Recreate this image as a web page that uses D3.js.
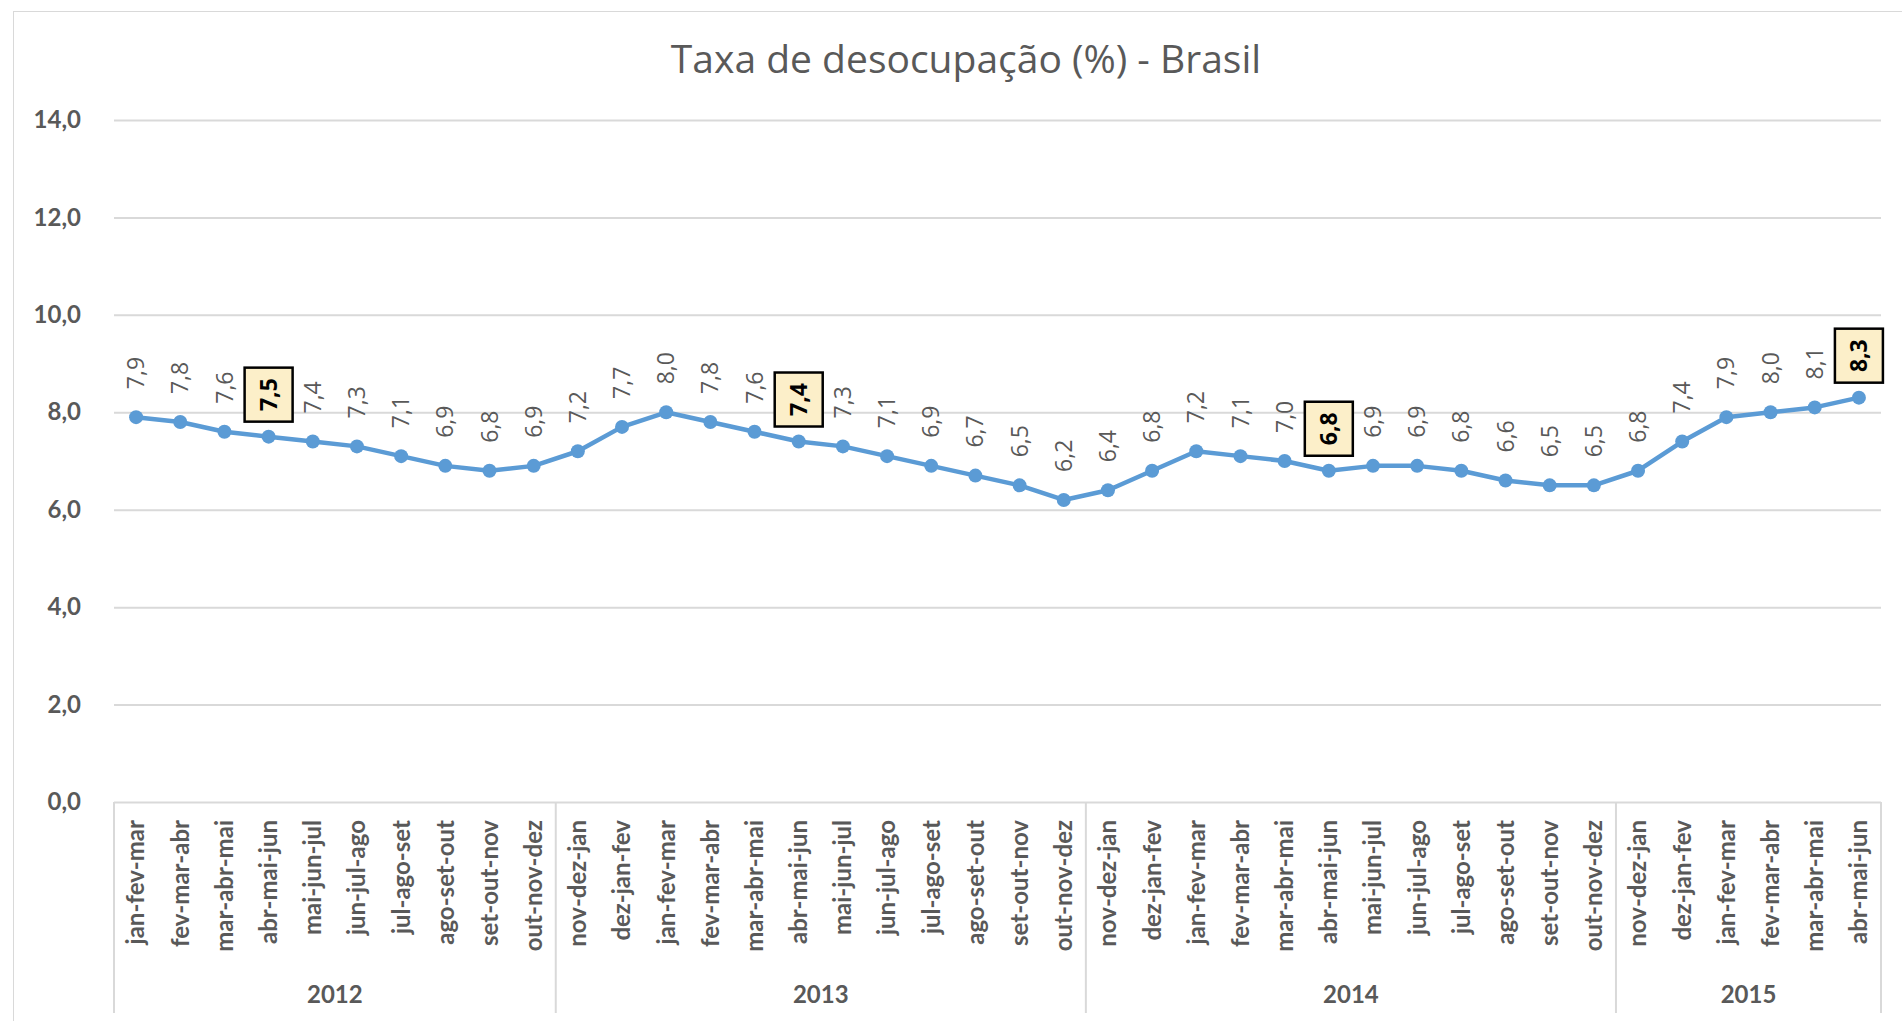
<!DOCTYPE html>
<html>
<head>
<meta charset="utf-8">
<script src="https://cdnjs.cloudflare.com/ajax/libs/d3/7.8.5/d3.min.js"></script>
<style>
	body { margin: 0; background: #fff; }
	text { fill: #595959; }
</style>
</head>
<body>
<svg id="chart" width="1902" height="1021"></svg>
<script>
var chartTitle = "Taxa de desocupação (%) - Brasil";

var periods = [
	"jan-fev-mar", "fev-mar-abr", "mar-abr-mai", "abr-mai-jun", "mai-jun-jul", "jun-jul-ago", "jul-ago-set", "ago-set-out", "set-out-nov", "out-nov-dez",
	"nov-dez-jan", "dez-jan-fev", "jan-fev-mar", "fev-mar-abr", "mar-abr-mai", "abr-mai-jun", "mai-jun-jul", "jun-jul-ago", "jul-ago-set", "ago-set-out", "set-out-nov", "out-nov-dez",
	"nov-dez-jan", "dez-jan-fev", "jan-fev-mar", "fev-mar-abr", "mar-abr-mai", "abr-mai-jun", "mai-jun-jul", "jun-jul-ago", "jul-ago-set", "ago-set-out", "set-out-nov", "out-nov-dez",
	"nov-dez-jan", "dez-jan-fev", "jan-fev-mar", "fev-mar-abr", "mar-abr-mai", "abr-mai-jun"
];

var rates = [
	7.9, 7.8, 7.6, 7.5, 7.4, 7.3, 7.1, 6.9, 6.8, 6.9,
	7.2, 7.7, 8.0, 7.8, 7.6, 7.4, 7.3, 7.1, 6.9, 6.7, 6.5, 6.2,
	6.4, 6.8, 7.2, 7.1, 7.0, 6.8, 6.9, 6.9, 6.8, 6.6, 6.5, 6.5,
	6.8, 7.4, 7.9, 8.0, 8.1, 8.3
];

var years = ["2012", "2013", "2014", "2015"];
var yearCounts = [10, 12, 12, 6];

// abr-mai-jun of each year gets a boxed label
var highlighted = [3, 15, 27, 39];

var yTicks = [0, 2, 4, 6, 8, 10, 12, 14];

var plotLeft = 114, plotRight = 1881, plotTop = 120, plotBottom = 802;

var br = d3.formatLocale({decimal: ",", thousands: ".", grouping: [3], currency: ["R$", ""]});
var fmt = br.format(".1f");

var svg = d3.select("#chart");

// chart area border
svg.append("rect")
	.attr("x", 13.5).attr("y", 11.5)
	.attr("width", 1900).attr("height", 1020)
	.attr("fill", "none").attr("stroke", "#d9d9d9").attr("stroke-width", 1);

svg.append("text")
	.attr("x", 966).attr("y", 73)
	.attr("text-anchor", "middle")
	.style("font-family", "'Open Sans', sans-serif")
	.style("font-size", "39px")
	.text(chartTitle);

var x = d3.scaleBand().domain(d3.range(periods.length)).range([plotLeft, plotRight]);
var y = d3.scaleLinear().domain([0, 14]).range([plotBottom, plotTop]);

// gridlines + y labels
var yAxis = svg.append("g")
	.attr("transform", "translate(" + plotLeft + ",0)")
	.call(d3.axisLeft(y).tickValues(yTicks).tickSize(-(plotRight - plotLeft)).tickPadding(33).tickFormat(fmt));
yAxis.select(".domain").remove();
yAxis.selectAll(".tick line").attr("stroke", "#d9d9d9").attr("stroke-width", 2);
yAxis.selectAll(".tick text")
	.style("font-family", "Lato, sans-serif")
	.style("font-weight", "bold")
	.style("font-size", "24px")
	.attr("fill", "#595959");

// category labels
svg.append("g").selectAll("text").data(periods).enter().append("text")
	.attr("transform", function (d, i) {
		return "translate(" + (x(i) + x.bandwidth() / 2) + ",820) rotate(-90)";
	})
	.attr("dy", "0.35em")
	.attr("text-anchor", "end")
	.style("font-family", "Lato, sans-serif")
	.style("font-weight", "bold")
	.style("font-size", "24px")
	.text(function (d) { return d; });

// year groups
var starts = [0];
yearCounts.forEach(function (c, i) { starts.push(starts[i] + c); });

svg.append("g").selectAll("line").data(starts).enter().append("line")
	.attr("x1", function (s) { return s < periods.length ? x(s) : plotRight; })
	.attr("x2", function (s) { return s < periods.length ? x(s) : plotRight; })
	.attr("y1", plotBottom).attr("y2", 1013)
	.attr("stroke", "#d9d9d9").attr("stroke-width", 2);

svg.append("g").selectAll("text").data(years).enter().append("text")
	.attr("x", function (d, i) {
		var a = x(starts[i]);
		var b = starts[i + 1] < periods.length ? x(starts[i + 1]) : plotRight;
		return (a + b) / 2;
	})
	.attr("y", 1003)
	.attr("text-anchor", "middle")
	.style("font-family", "Lato, sans-serif")
	.style("font-weight", "bold")
	.style("font-size", "24px")
	.text(function (d) { return d; });

// series
var cx = function (d, i) { return x(i) + x.bandwidth() / 2; };

var line = d3.line()
	.x(function (d, i) { return cx(d, i); })
	.y(function (d) { return y(d); });

svg.append("path")
	.datum(rates)
	.attr("d", line)
	.attr("fill", "none")
	.attr("stroke", "#5B9BD5")
	.attr("stroke-width", 4.5)
	.attr("stroke-linejoin", "round");

svg.append("g").selectAll("circle").data(rates).enter().append("circle")
	.attr("cx", cx)
	.attr("cy", function (d) { return y(d); })
	.attr("r", 7)
	.attr("fill", "#5B9BD5");

// plain data labels
var plain = rates.map(function (d, i) { return {v: d, i: i}; })
	.filter(function (d) { return highlighted.indexOf(d.i) < 0; });

svg.append("g").selectAll("text").data(plain).enter().append("text")
	.attr("transform", function (d) {
		return "translate(" + cx(d.v, d.i) + "," + (y(d.v) - 28) + ") rotate(-90)";
	})
	.attr("dy", "0.35em")
	.attr("text-anchor", "start")
	.style("font-family", "'Open Sans', sans-serif")
	.style("font-size", "23px")
	.text(function (d) { return fmt(d.v); });

// boxed labels
var boxed = highlighted.map(function (i) { return {v: rates[i], i: i}; });
var bw = 48, bh = 54;

var bg = svg.append("g").selectAll("g").data(boxed).enter().append("g")
	.attr("transform", function (d) {
		return "translate(" + cx(d.v, d.i) + "," + (y(d.v) - 15 - bh / 2) + ")";
	});

bg.append("rect")
	.attr("x", -bw / 2).attr("y", -bh / 2)
	.attr("width", bw).attr("height", bh)
	.attr("fill", "#FCEFC9")
	.attr("stroke", "#000")
	.attr("stroke-width", 2.5);

bg.append("text")
	.attr("transform", "rotate(-90)")
	.attr("dy", "0.35em")
	.attr("text-anchor", "middle")
	.style("font-family", "'Open Sans', sans-serif")
	.style("font-weight", "bold")
	.style("font-size", "23px")
	.style("fill", "#000")
	.text(function (d) { return fmt(d.v); });
</script>
</body>
</html>
